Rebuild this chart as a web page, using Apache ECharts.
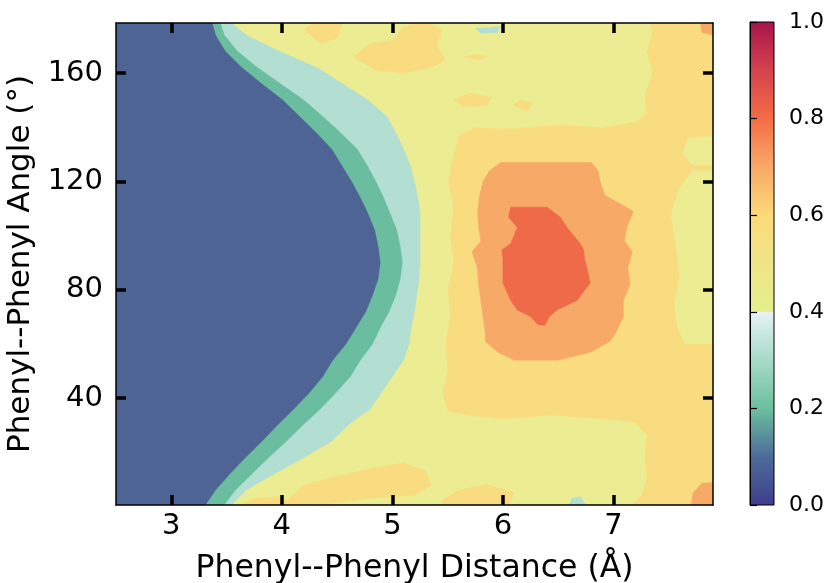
<!DOCTYPE html>
<html><head><meta charset="utf-8">
<script src="https://cdn.jsdelivr.net/npm/echarts@6/dist/echarts.min.js"></script>
<style>html,body{margin:0;padding:0;background:#fff}#c{width:828px;height:583px}</style>
</head><body><div id="c"></div>
<script>
const FONT = 'DejaVu Sans';
const xTicks = [3, 4, 5, 6, 7];
const yTicks = [40, 80, 120, 160];
const xRange = [2.5, 7.9];
const yRange = [0.5, 178.5];
const xTitle = 'Phenyl--Phenyl Distance (Å)';
const yTitle = 'Phenyl--Phenyl Angle (°)';

// angle rows (deg) and contour crossings (distance, Å)
const angleGrid = [0,6,12,18,24,30,36,42,48,54,60,66,72,78,84,90,96,102,108,114,120,126,132,138,144,150,156,162,168,174,180];
const blueEdge  = [3.30,3.40,3.53,3.67,3.82,3.96,4.11,4.25,4.37,4.46,4.58,4.67,4.76,4.82,4.87,4.89,4.87,4.84,4.78,4.71,4.63,4.54,4.45,4.31,4.16,4.01,3.82,3.64,3.49,3.40,3.36];
const greenEdge = [3.47,3.58,3.73,3.88,4.04,4.19,4.35,4.49,4.62,4.71,4.82,4.89,4.97,5.03,5.07,5.09,5.07,5.04,4.98,4.92,4.85,4.77,4.68,4.53,4.37,4.20,3.99,3.78,3.60,3.48,3.43];
const tealEdge  = [3.53,3.68,3.93,4.20,4.45,4.60,4.80,4.90,5.00,5.10,5.15,5.17,5.20,5.22,5.24,5.25,5.25,5.25,5.25,5.23,5.20,5.16,5.10,5.03,4.95,4.78,4.55,4.32,3.98,3.68,3.50];

// yellow (0.4-0.5) / light orange (0.5-0.6) boundary
const yellowEdgeAngle = [0,4,10,18,26,31,32.5,33.5,32,33.5,35,42,50,60,70,80,90,100,110,120,130,137,140,139.5,141,140,142,145,152,160,168,175,180];
const yellowEdgeDist  = [7.15,7.25,7.3,7.28,7.3,7.2,6.8,6.4,6.0,5.7,5.5,5.45,5.5,5.48,5.52,5.5,5.55,5.52,5.55,5.5,5.55,5.6,5.75,6.1,6.5,6.9,7.2,7.3,7.28,7.35,7.3,7.35,7.33];

// 0.6 contour (orange ring) and 0.7 contour (red core)
const ringAngle = [54,57,61,64,70,76,82,88,94,98,103,109,115,120,124,127];
const ringLeft  = [6.10,5.95,5.84,5.84,5.82,5.80,5.78,5.77,5.72,5.80,5.78,5.77,5.79,5.82,5.88,5.98];
const ringRight = [6.50,6.80,6.97,7.02,7.09,7.09,7.15,7.13,7.17,7.10,7.12,7.18,6.92,6.88,6.86,6.80];
const coreAngle = [67,70,72.5,76,82.5,88,91,94.7,97,103,106.8,110.5];
const coreLeft  = [6.32,6.25,6.13,6.07,6.00,6.00,6.00,5.99,6.07,6.13,6.05,6.07];
const coreRight = [6.38,6.42,6.49,6.67,6.79,6.76,6.74,6.73,6.70,6.58,6.52,6.40];

// small islands: [distance, angle] outlines
const yellowIslands = [
  [[7.65,60],[7.58,66],[7.55,75],[7.6,85],[7.57,95],[7.52,108],[7.6,118],[7.72,124],[7.95,124],[7.95,60]],
  [[7.72,126],[7.62,130],[7.68,136],[7.95,137],[7.95,126]]
];
const lightOrangeIslands = [
  [[4.65,166],[4.8,171],[5.0,172],[5.1,177],[5.3,179],[5.45,176],[5.4,170],[5.48,165],[5.35,162],[5.1,160],[4.85,161]],
  [[4.2,176],[4.3,179],[4.55,179],[4.5,173],[4.35,171]],
  [[5.55,150],[5.7,152.5],[5.9,151],[5.85,148],[5.65,147.5]],
  [[6.09,148],[6.15,150],[6.27,149],[6.22,146]],
  [[5.64,166],[5.75,167],[5.86,166],[5.78,165]],
  [[4.0,0],[4.2,8],[4.5,11],[4.8,14],[5.1,16],[5.3,13],[5.35,8],[5.2,4],[4.8,3],[4.4,1]],
  [[5.45,0],[5.45,2],[5.6,6],[5.85,8],[6.1,5],[6.05,0]],
  [[3.6,0],[3.75,3],[4.0,3.5],[4.1,0]]
];
const orangeIslands = [
  [[7.7,0],[7.72,5],[7.8,8.5],[7.95,9],[7.95,0]],
  [[7.78,180],[7.8,175],[7.95,173.5],[7.95,180]]
];
const tealIslands = [
  [[5.75,176.5],[5.98,177.2],[5.95,175],[5.8,174.8]],
  [[6.6,0],[6.62,3],[6.7,3.5],[6.76,0]]
];

const bandColors = { blue:'#4e6495', green:'#6bbd9f', teal:'#b3dfd3', yellow:'#ecec92', light:'#f9dc7f', orange:'#f7aa68', red:'#ef6a49' };
const cbarTicks = [0, 0.2, 0.4, 0.6, 0.8, 1.0];
const cbarStops = [[0,'#3f3d8d'],[0.1,'#4d6a99'],[0.2,'#6cbf9e'],[0.3,'#a6dac7'],[0.399,'#e6f2f4'],[0.401,'#e3ef8c'],[0.5,'#efe488'],[0.6,'#fcd97a'],[0.7,'#f8a866'],[0.8,'#f46c45'],[0.9,'#d3424e'],[1.0,'#a6144a']];

function leftRegion(angles, edge) {
  const pts = [[xRange[0] - 1, angles[0]]];
  angles.forEach((a, i) => pts.push([edge[i], a]));
  pts.push([xRange[0] - 1, angles[angles.length - 1]]);
  return pts;
}
function closedRegion(angles, left, right) {
  const pts = [];
  angles.forEach((a, i) => pts.push([left[i], a]));
  for (let i = angles.length - 1; i >= 0; i--) pts.push([right[i], angles[i]]);
  return pts;
}
const fullBox = [[xRange[0]-1, -5],[xRange[1]+1, -5],[xRange[1]+1, 185],[xRange[0]-1, 185]];

function layer(polys, color) {
  return {
    type: 'custom', xAxisIndex: 0, yAxisIndex: 0, clip: true, silent: true,
    data: polys.map(p => p[0]),
    renderItem: function (params, api) {
      const poly = polys[params.dataIndex];
      return { type: 'polygon', shape: { points: poly.map(p => api.coord(p)) },
               style: { fill: color, stroke: color, lineWidth: 0.5 } };
    }
  };
}

const chart = echarts.init(document.getElementById('c'), null, { renderer: 'canvas' });
const axisLine = { show: true, lineStyle: { color: '#000', width: 1.5 } };
const tickStyle = { color: '#000', width: 3.5 };

const option = {
  animation: false,
  backgroundColor: '#fff',
  grid: [
    { left: 116, top: 23, width: 597, height: 482, containLabel: false, outerBoundsMode: 'none' },
    { left: 750, top: 22, width: 24, height: 483, containLabel: false, outerBoundsMode: 'none' }
  ],
  xAxis: [
    { type: 'value', gridIndex: 0, min: xRange[0], max: xRange[1], position: 'bottom', z: 10,
      axisLine, splitLine: { show: false },
      axisTick: { show: true, inside: true, length: 10, lineStyle: tickStyle, customValues: xTicks },
      axisLabel: { customValues: xTicks, fontSize: 29, color: '#000', fontFamily: FONT, margin: 7 },
      name: xTitle, nameLocation: 'middle', nameGap: 48,
      nameTextStyle: { fontSize: 31.5, color: '#000', fontFamily: FONT } },
    { type: 'value', gridIndex: 0, min: xRange[0], max: xRange[1], position: 'top', z: 10,
      axisLine, splitLine: { show: false },
      axisTick: { show: true, inside: true, length: 10, lineStyle: tickStyle, customValues: xTicks },
      axisLabel: { show: false } },
    { type: 'value', gridIndex: 1, min: 0, max: 1, show: false }
  ],
  yAxis: [
    { type: 'value', gridIndex: 0, min: yRange[0], max: yRange[1], position: 'left', z: 10,
      axisLine, splitLine: { show: false },
      axisTick: { show: true, inside: true, length: 10, lineStyle: tickStyle, customValues: yTicks },
      axisLabel: { customValues: yTicks, fontSize: 29, color: '#000', fontFamily: FONT, margin: 13 },
      name: yTitle, nameLocation: 'middle', nameGap: 73,
      nameTextStyle: { fontSize: 31, color: '#000', fontFamily: FONT } },
    { type: 'value', gridIndex: 0, min: yRange[0], max: yRange[1], position: 'right', z: 10,
      axisLine, splitLine: { show: false },
      axisTick: { show: true, inside: true, length: 10, lineStyle: tickStyle, customValues: yTicks },
      axisLabel: { show: false } },
    { type: 'value', gridIndex: 1, min: 0, max: 1, interval: 0.2, position: 'right', z: 10,
      axisLine: { show: true, lineStyle: { color: '#000', width: 1 } }, splitLine: { show: false },
      axisTick: { show: true, inside: false, length: 7, lineStyle: { color: '#000', width: 1.2 } },
      axisLabel: { fontSize: 22, color: '#000', fontFamily: FONT, margin: 15, formatter: v => v.toFixed(1) } }
  ],
  series: [
    layer([fullBox], bandColors.light),
    layer([[[xRange[0]-1, yellowEdgeAngle[0]], ...yellowEdgeAngle.map((a, i) => [yellowEdgeDist[i], a]), [xRange[0]-1, yellowEdgeAngle[yellowEdgeAngle.length-1]]]], bandColors.yellow),
    layer(yellowIslands, bandColors.yellow),
    layer(lightOrangeIslands, bandColors.light),
    layer(orangeIslands, bandColors.orange),
    layer(tealIslands, bandColors.teal),
    layer([leftRegion(angleGrid, tealEdge)], bandColors.teal),
    layer([leftRegion(angleGrid, greenEdge)], bandColors.green),
    layer([leftRegion(angleGrid, blueEdge)], bandColors.blue),
    layer([closedRegion(ringAngle, ringLeft, ringRight)], bandColors.orange),
    layer([closedRegion(coreAngle, coreLeft, coreRight)], bandColors.red),
    {
      type: 'custom', xAxisIndex: 2, yAxisIndex: 2, silent: true,
      data: [[0, 0]],
      renderItem: function (params, api) {
        const p0 = api.coord([0, 0]), p1 = api.coord([1, 1]);
        return { type: 'rect',
          shape: { x: p0[0], y: p1[1], width: p1[0] - p0[0], height: p0[1] - p1[1] },
          style: { fill: new echarts.graphic.LinearGradient(0, 1, 0, 0,
                     cbarStops.map(s => ({ offset: s[0], color: s[1] }))),
                   stroke: '#000', lineWidth: 1 } };
      }
    }
  ]
};
chart.setOption(option);
</script></body></html>
